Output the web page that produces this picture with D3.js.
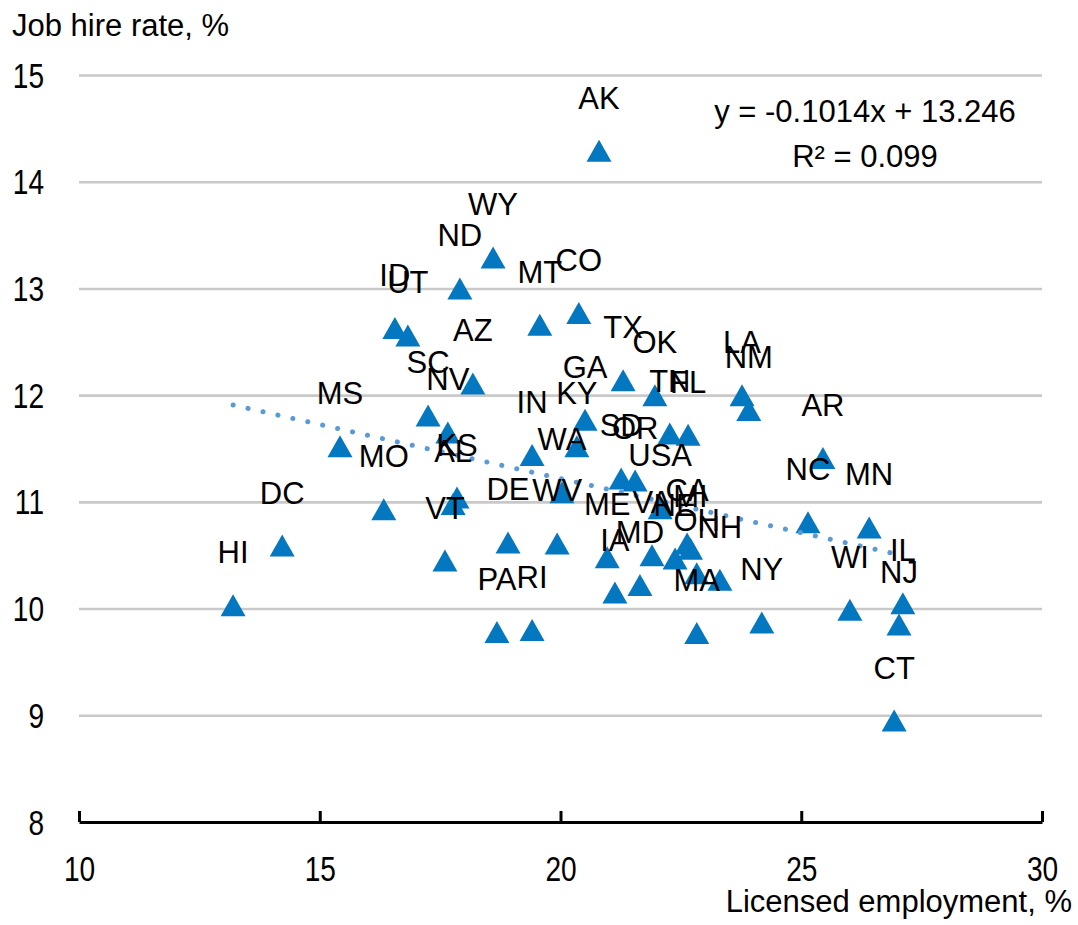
<!DOCTYPE html>
<html>
<head>
<meta charset="utf-8">
<script src="https://cdn.jsdelivr.net/npm/d3@7/dist/d3.min.js"></script>
<style>
  html, body { margin: 0; padding: 0; background: #fff; }
  svg { display: block; }
</style>
</head>
<body>
<svg id="chart" width="1078" height="925"></svg>
<script>
// ---- data ----
const states = ["AK","WY","ND","ID","UT","MT","CO","AZ","SC","NV","MS","MO","KS","AL","VT","DC","HI",
  "IN","KY","GA","WA","DE","WV","PA","RI","TX","OK","TN","FL","LA","NM","SD","OR","USA","ME","VA",
  "NE","CA","MI","IA","MD","OH","NH","MA","NY","AR","NC","MN","WI","IL","NJ","CT"];
const licensed = [20.80,18.60,17.91,16.56,16.83,19.57,20.38,18.18,17.25,17.66,15.42,16.33,17.85,17.77,17.60,14.22,13.20,
  19.41,20.34,20.51,20.03,18.91,19.93,18.68,19.41,21.30,21.96,22.27,22.65,23.77,23.91,21.26,21.55,22.07,20.97,21.90,
  22.38,22.63,22.70,21.13,21.65,22.83,23.31,22.83,24.18,25.45,25.14,26.41,26.01,27.11,27.03,26.93];
const hireRate = [14.29,13.29,13.00,12.63,12.56,12.66,12.77,12.11,11.81,11.65,11.52,10.93,11.04,10.98,10.45,10.59,10.03,
  11.44,11.52,11.77,11.09,10.62,10.61,9.78,9.80,12.14,12.00,11.64,11.63,12.00,11.86,11.22,11.20,10.94,10.48,10.50,
  10.47,10.61,10.56,10.15,10.22,10.33,10.27,9.77,9.87,11.41,10.81,10.76,9.99,10.05,9.85,8.95];
const xTicks = [10, 15, 20, 25, 30];
const yTicks = [8, 9, 10, 11, 12, 13, 14, 15];
const trendSlope = -0.1014;
const trendIntercept = 13.246;
const trendText = ["y = -0.1014x + 13.246", "R\u00B2 = 0.099"];
const yTitle = "Job hire rate, %";
const xTitle = "Licensed employment, %";

(function () {
// ---- layout ----
const svg = d3.select("#chart");
const pLeft = 79, pRight = 1042, pTop = 75, pBottom = 822;
const x = d3.scaleLinear().domain([10, 30]).range([pLeft, pRight]);
const y = d3.scaleLinear().domain([8, 15]).range([pBottom, pTop]);

const fontMain = "'Liberation Sans', Arial, sans-serif";
const markerColor = "#0377BF";
const trendColor = "#5B9BD5";
const tickNarrow = 0.78;

// gridlines
const grid = svg.append("g")
  .attr("transform", `translate(${pLeft},0)`)
  .call(d3.axisLeft(y).tickValues(yTicks.filter(v => v > 8)).tickSize(-(pRight - pLeft)).tickFormat(""));
grid.select(".domain").remove();
grid.selectAll("line").attr("stroke", "#C9C9C9").attr("stroke-width", 2.6);

// y tick labels (condensed like the reference)
const yAx = svg.append("g")
  .attr("transform", `translate(${pLeft},0)`)
  .call(d3.axisLeft(y).tickValues(yTicks).tickSize(0).tickFormat(d3.format("d")));
yAx.select(".domain").remove();
yAx.selectAll("text")
  .attr("x", 0).attr("y", 0).attr("dy", null)
  .attr("transform", `translate(-35,12) scale(${tickNarrow},1)`)
  .attr("text-anchor", "end")
  .style("font-family", fontMain).style("font-size", "36px").attr("fill", "#000");

// x axis
const xAx = svg.append("g")
  .attr("transform", `translate(0,${pBottom})`)
  .call(d3.axisBottom(x).tickValues(xTicks).tickSizeInner(-11).tickSizeOuter(0).tickFormat(d3.format("d")));
xAx.select(".domain").attr("stroke", "#000").attr("stroke-width", 3);
xAx.selectAll(".tick line").attr("stroke", "#000").attr("stroke-width", 3);
xAx.selectAll("text")
  .attr("x", 0).attr("y", 0).attr("dy", null)
  .attr("transform", `translate(0,59) scale(${tickNarrow},1)`)
  .style("font-family", fontMain).style("font-size", "36px").attr("fill", "#000");

// titles
svg.append("text").attr("x", 12).attr("y", 36)
  .style("font-family", fontMain).style("font-size", "31px").text(yTitle);
svg.append("text").attr("x", 1072).attr("y", 912).attr("text-anchor", "end")
  .style("font-family", fontMain).style("font-size", "31px").text(xTitle);

// markers
const pts = states.map((s, i) => ({ s, lx: licensed[i], hr: hireRate[i] }));
const triW = 25, triH = 22;
const tri = d3.path();
tri.moveTo(0, -triH / 2); tri.lineTo(triW / 2, triH / 2); tri.lineTo(-triW / 2, triH / 2); tri.closePath();
svg.append("g").selectAll("path").data(pts).join("path")
  .attr("d", tri.toString())
  .attr("transform", d => `translate(${x(d.lx)},${y(d.hr)})`)
  .attr("fill", markerColor);

// trendline
const xMin = d3.min(licensed), xMax = d3.max(licensed);
const trendPts = [xMin, xMax].map(v => [x(v), y(trendSlope * v + trendIntercept)]);
svg.append("path")
  .attr("d", d3.line()(trendPts))
  .attr("fill", "none").attr("stroke", trendColor)
  .attr("stroke-width", 5).attr("stroke-linecap", "round")
  .attr("stroke-dasharray", "0.1 15.2");

// data labels
svg.append("g").selectAll("text").data(pts).join("text")
  .attr("x", d => x(d.lx))
  .attr("y", d => y(d.hr) - 42)
  .attr("text-anchor", "middle")
  .style("font-family", fontMain).style("font-size", "31px").attr("fill", "#000")
  .text(d => d.s);

// trend equation
svg.append("g").selectAll("text").data(trendText).join("text")
  .attr("x", 865).attr("y", (d, i) => 122 + i * 45)
  .attr("text-anchor", "middle")
  .style("font-family", fontMain).style("font-size", "31px").attr("fill", "#000")
  .text(d => d);
})();
</script>
</body>
</html>
